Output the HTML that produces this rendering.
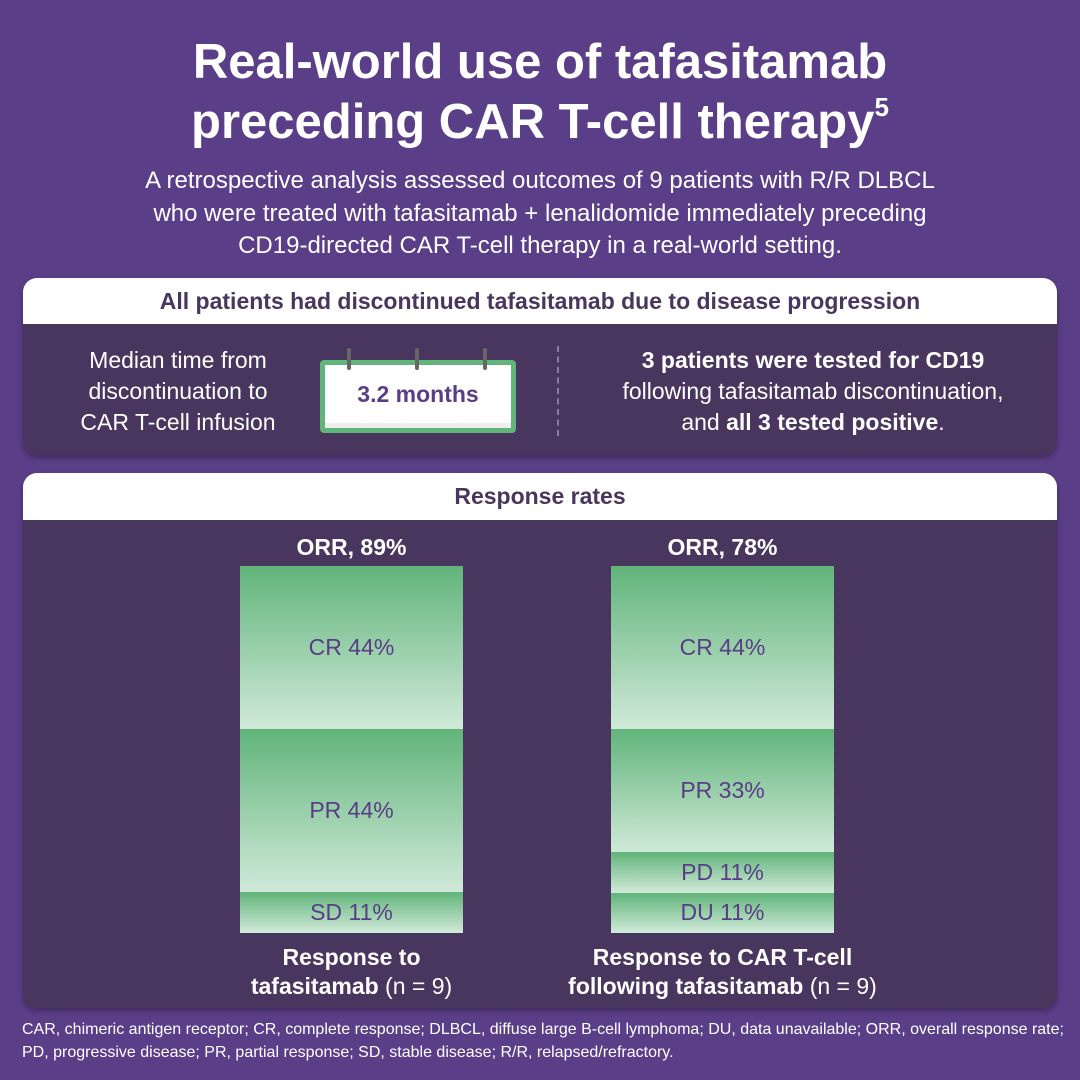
<!DOCTYPE html><html><head><meta charset="utf-8"><style>
*{margin:0;padding:0;box-sizing:border-box}
body{width:1080px;height:1080px;background:#5b3e88;font-family:"Liberation Sans",sans-serif;color:#fff;position:relative;overflow:hidden}
.a{position:absolute}
.c{text-align:center}
.panel{position:absolute;left:23px;width:1034px;background:#48365f;border-radius:14px;overflow:hidden;box-shadow:0 3px 6px rgba(0,0,0,.3)}
.hd{background:#fff;color:#48365f;font-weight:bold;font-size:23px;text-align:center}
.seg{position:absolute;left:0;width:100%;background:linear-gradient(#61b47a,#cfe9d8);color:#5a3d87;font-size:23px;display:flex;align-items:center;justify-content:center;border-bottom:1px solid #cfe9d8}
.bar{position:absolute;top:566px;width:223px;height:367px}
</style></head><body>
<div class="a c" style="left:0;width:1080px;top:32px;font-size:49px;font-weight:bold;line-height:60px">Real-world use of tafasitamab<br>preceding CAR T-cell therapy<span style="font-size:26px;position:relative;top:-22px;line-height:0">5</span></div>
<div class="a c" style="left:0;width:1080px;top:165px;font-size:24px;line-height:32.5px">A retrospective analysis assessed outcomes of 9 patients with R/R DLBCL<br>who were treated with tafasitamab + lenalidomide immediately preceding<br>CD19-directed CAR T-cell therapy in a real-world setting.</div>
<div class="panel" style="top:278px;height:177px">
<div class="hd" style="height:46px;line-height:46px">All patients had discontinued tafasitamab due to disease progression</div>
<div class="a c" style="left:40px;top:67px;width:230px;font-size:23px;line-height:31px">Median time from discontinuation to CAR T-cell infusion</div>
<div class="a" style="left:297px;top:82px;width:196px;height:73px;background:#61b47a;border-radius:4px"><div style="position:absolute;left:5px;top:5px;right:5px;bottom:5px;background:#fff;border-bottom:5px solid #eee;color:#5a3d87;font-weight:bold;font-size:23px;text-align:center;line-height:58px">3.2 months</div></div>
<div class="a" style="left:324px;top:70px;width:4px;height:22px;background:#666;border-radius:2px"></div>
<div class="a" style="left:392px;top:70px;width:4px;height:22px;background:#666;border-radius:2px"></div>
<div class="a" style="left:460px;top:70px;width:4px;height:22px;background:#666;border-radius:2px"></div>
<div class="a" style="left:534px;top:68px;height:90px;border-left:2px dashed #8a7ba0"></div>
<div class="a c" style="left:555px;top:67px;width:470px;font-size:23px;line-height:31px"><b>3 patients were tested for CD19</b><br>following tafasitamab discontinuation,<br>and <b>all 3 tested positive</b>.</div>
</div>
<div class="panel" style="top:473px;height:535px">
<div class="hd" style="height:47px;line-height:47px">Response rates</div>
</div>
<div class="a c" style="left:240px;width:223px;top:534px;font-size:23px;font-weight:bold">ORR, 89%</div>
<div class="a c" style="left:611px;width:223px;top:534px;font-size:23px;font-weight:bold">ORR, 78%</div>
<div class="bar" style="left:240px">
<div class="seg" style="top:0;height:163px">CR 44%</div>
<div class="seg" style="top:163px;height:163px">PR 44%</div>
<div class="seg" style="top:326px;height:41px">SD 11%</div></div>
<div class="bar" style="left:611px">
<div class="seg" style="top:0;height:163px">CR 44%</div>
<div class="seg" style="top:163px;height:123px">PR 33%</div>
<div class="seg" style="top:286px;height:41px">PD 11%</div>
<div class="seg" style="top:327px;height:40px">DU 11%</div></div>
<div class="a c" style="left:200px;width:303px;top:943px;font-size:23px;line-height:29px"><b>Response to<br>tafasitamab</b> (n = 9)</div>
<div class="a c" style="left:520px;width:405px;top:943px;font-size:23px;line-height:29px"><b>Response to CAR T-cell<br>following tafasitamab</b> (n = 9)</div>
<div class="a" style="left:22px;top:1018px;width:1058px;font-size:16px;line-height:23px;white-space:nowrap">CAR, chimeric antigen receptor; CR, complete response; DLBCL, diffuse large B-cell lymphoma; DU, data unavailable; ORR, overall response rate;<br>PD, progressive disease; PR, partial response; SD, stable disease; R/R, relapsed/refractory.</div>
</body></html>
